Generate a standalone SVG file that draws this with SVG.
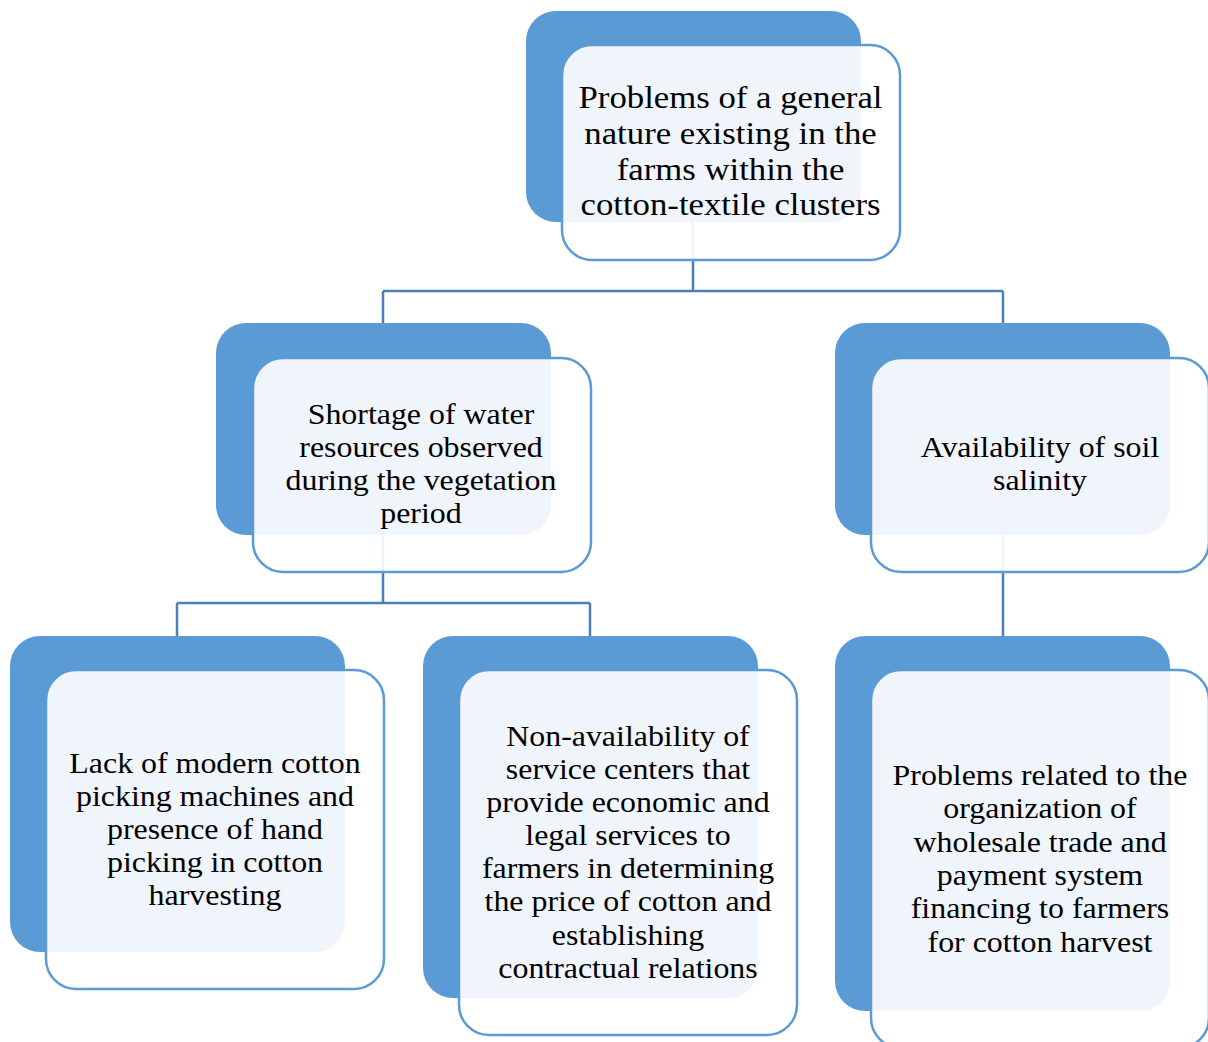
<svg xmlns="http://www.w3.org/2000/svg" width="1208" height="1042" viewBox="0 0 1208 1042">
<style>
.back{fill:#5b9bd5;}
.front{fill:#ffffff;fill-opacity:0.9;stroke:#5b9bd5;stroke-width:2.5;}
.conn{fill:none;stroke:#4a7fba;stroke-width:2.5;}
.t{font-family:"Liberation Serif","Times New Roman",serif;font-size:29px;fill:#000;text-anchor:middle;}
.tt{font-size:31.6px;}
</style>
<rect width="1208" height="1042" fill="#ffffff"/>
<g id="connectors">
<path class="conn" d="M693,222 V291 M383,291 H1003 M383,291 V323 M1003,291 V323"/>
<path class="conn" d="M383,535 V603 M177,603 H590 M177,603 V636 M590,603 V636"/>
<path class="conn" d="M1003,535 V636"/>
</g>
<g id="node-root">
<rect class="back" x="526" y="11" width="335" height="211" rx="30"/>
<rect class="front" x="562" y="45" width="338" height="215" rx="30"/>
<text class="t tt" transform="matrix(1.1,0,0,1,730.5,0)"><tspan x="0" y="108.5">Problems of a general</tspan><tspan x="0" y="144.5">nature existing in the</tspan><tspan x="0" y="180">farms within the</tspan><tspan x="0" y="215.5">cotton-textile clusters</tspan></text>
</g>
<g id="node-water">
<rect class="back" x="216" y="323" width="335" height="212" rx="30"/>
<rect class="front" x="253" y="358" width="338" height="214" rx="30"/>
<text class="t" transform="matrix(1.1,0,0,1,421,0)"><tspan x="0" y="424">Shortage of water</tspan><tspan x="0" y="457">resources observed</tspan><tspan x="0" y="490.5">during the vegetation</tspan><tspan x="0" y="523">period</tspan></text>
</g>
<g id="node-salinity">
<rect class="back" x="835" y="323" width="335" height="212" rx="30"/>
<rect class="front" x="871" y="358" width="338" height="214" rx="30"/>
<text class="t" transform="matrix(1.1,0,0,1,1040,0)"><tspan x="0" y="457">Availability of soil</tspan><tspan x="0" y="490">salinity</tspan></text>
</g>
<g id="node-picking">
<rect class="back" x="10" y="636" width="335" height="316" rx="30"/>
<rect class="front" x="46" y="670" width="338" height="319" rx="30"/>
<text class="t" transform="matrix(1.1,0,0,1,215,0)"><tspan x="0" y="773">Lack of modern cotton</tspan><tspan x="0" y="806">picking machines and</tspan><tspan x="0" y="839">presence of hand</tspan><tspan x="0" y="872">picking in cotton</tspan><tspan x="0" y="905">harvesting</tspan></text>
</g>
<g id="node-service">
<rect class="back" x="423" y="636" width="335" height="362" rx="30"/>
<rect class="front" x="459" y="670" width="338" height="365" rx="30"/>
<text class="t" transform="matrix(1.1,0,0,1,628,0)"><tspan x="0" y="746">Non-availability of</tspan><tspan x="0" y="779">service centers that</tspan><tspan x="0" y="812">provide economic and</tspan><tspan x="0" y="845">legal services to</tspan><tspan x="0" y="878">farmers in determining</tspan><tspan x="0" y="911">the price of cotton and</tspan><tspan x="0" y="945">establishing</tspan><tspan x="0" y="978">contractual relations</tspan></text>
</g>
<g id="node-trade">
<rect class="back" x="835" y="636" width="335" height="375" rx="30"/>
<rect class="front" x="871" y="670" width="338" height="378" rx="30"/>
<text class="t" transform="matrix(1.1,0,0,1,1040,0)"><tspan x="0" y="785">Problems related to the</tspan><tspan x="0" y="818.5">organization of</tspan><tspan x="0" y="852">wholesale trade and</tspan><tspan x="0" y="885">payment system</tspan><tspan x="0" y="918.5">financing to farmers</tspan><tspan x="0" y="952">for cotton harvest</tspan></text>
</g>
</svg>
